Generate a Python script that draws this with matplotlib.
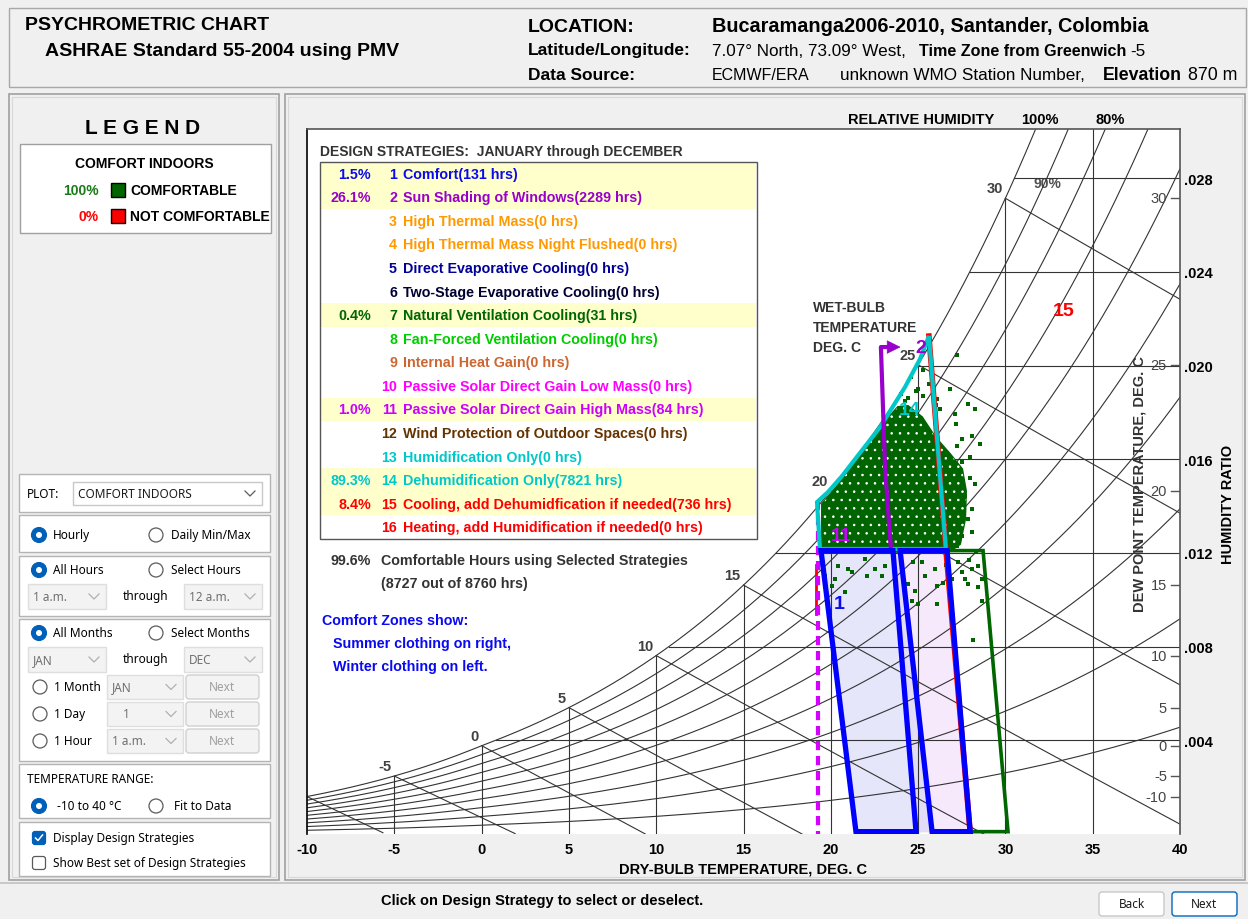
import numpy as np
import matplotlib
matplotlib.use("Agg")
import matplotlib.pyplot as plt
from matplotlib.patches import Rectangle, Polygon, Circle, FancyBboxPatch

plt.rcParams["font.family"] = ["Liberation Sans", "DejaVu Sans"]
plt.rcParams["hatch.linewidth"] = 0.6

# ---------------------------------------------------------------- data
P_ATM = 101.325  # chart drawn at sea-level pressure

STRATEGY_NAMES = [
    "Comfort", "Sun Shading of Windows", "High Thermal Mass",
    "High Thermal Mass Night Flushed", "Direct Evaporative Cooling",
    "Two-Stage Evaporative Cooling", "Natural Ventilation Cooling",
    "Fan-Forced Ventilation Cooling", "Internal Heat Gain",
    "Passive Solar Direct Gain Low Mass", "Passive Solar Direct Gain High Mass",
    "Wind Protection of Outdoor Spaces", "Humidification Only",
    "Dehumidification Only", "Cooling, add Dehumidfication if needed",
    "Heating, add Humidification if needed",
]
STRATEGY_HOURS = [131, 2289, 0, 0, 0, 0, 31, 0, 0, 0, 84, 0, 0, 7821, 736, 0]
STRATEGY_COLORS = [
    "#0a0af0", "#9900cc", "#ff9900", "#ff9900", "#000099", "#000033",
    "#006600", "#00cc00", "#cc6633", "#ff00ff", "#cc00ff", "#663300",
    "#00c8c8", "#00c8c8", "#ff0000", "#ff0000",
]
TOTAL_HOURS = 8760
COMFORT_HOURS = 8727

DB_LINES = [-5, 0, 5, 10, 15, 20, 25, 30, 35]
DB_TICKS = [-10, -5, 0, 5, 10, 15, 20, 25, 30, 35, 40]
WB_LINES = [-10, -5, 0, 5, 10, 15, 20, 25, 30]
WB_LABELS = [-5, 0, 5, 10, 15, 20, 25, 30]
DP_TICKS = [-10, -5, 0, 5, 10, 15, 20, 25, 30]
W_TICKS = [0.004, 0.008, 0.012, 0.016, 0.020, 0.024, 0.028]
RH_LINES = [0.1, 0.2, 0.3, 0.4, 0.5, 0.6, 0.7, 0.8, 0.9, 1.0]

# comfort zones and strategy outlines (dry bulb C, humidity ratio kg/kg)
WINTER_T = [19.44, 23.56, 24.88, 21.44]
WINTER_W = [0.0121, 0.0121, 0.0001, 0.0001]
SUMMER_T = [23.97, 26.66, 27.98, 25.80]
SUMMER_W = [0.0121, 0.0121, 0.0001, 0.0001]
NATVENT_T = [26.66, 28.72, 30.15, 27.98]
NATVENT_W = [0.0121, 0.0121, 0.0001, 0.0001]
DEHUM_T = [19.38, 19.21, 19.84, 20.64, 21.44, 22.82, 24.25, 25.11, 25.62, 26.59]
DEHUM_W = [0.01217, 0.01417, 0.01460, 0.01528, 0.01605, 0.01737, 0.01908,
           0.02028, 0.02126, 0.01217]
COOLING_T = [25.62, 26.59, 27.98]
COOLING_W = [0.02126, 0.01217, 0.0001]
SHADE_T = [23.45, 23.11, 22.87, 23.55]
SHADE_W = [0.01212, 0.01558, 0.02079, 0.02079]
SHADE_ARROW_TIP = 24.15
PASSIVE_T = [19.27, 19.27]
PASSIVE_W = [0.0142, 0.0]
HEAT_T = [19.18, 19.18]
HEAT_W = [0.0115, 0.0094]

ZONE_LABELS = ["1", "2", "11", "14", "15"]
ZONE_LABEL_T = [20.47, 25.17, 20.58, 24.54, 33.33]
ZONE_LABEL_W = [0.00982, 0.02079, 0.01275, 0.01814, 0.02237]
ZONE_LABEL_COLORS = ["#0a0af0", "#9900cc", "#cc00ff", "#00c8c8", "#ff0000"]

# dense part of the hourly data cloud
CLOUD_T = [19.50, 19.50, 20.41, 21.21, 22.13, 23.22, 23.85, 24.42, 25.22,
           25.97, 26.83, 27.52, 27.74, 27.69, 27.40, 26.83, 22.82, 19.95]
CLOUD_W = [0.01225, 0.01409, 0.0149, 0.0157, 0.0166, 0.01772, 0.01823,
           0.01827, 0.01780, 0.01695, 0.01622, 0.01558, 0.01464, 0.01345,
           0.01238, 0.01208, 0.01204, 0.01204]
# scattered hours around the cloud
HOUR_T = [27.20, 26.83, 26.09, 27.86, 28.26, 25.00, 25.28, 24.25, 27.17,
          27.52, 28.09, 28.55, 27.23, 27.98, 27.52, 28.26, 27.69, 28.09,
          27.86, 27.52, 28.09, 27.23, 20.41, 20.99, 20.25, 21.96, 22.53,
          23.10, 24.71, 25.40, 25.22, 25.97, 26.09, 24.42, 24.82, 22.93,
          20.07, 19.67, 20.81, 27.29, 27.52, 28.09, 27.69, 26.94, 28.43,
          27.86, 28.66, 24.65, 25.00, 26.09, 28.66, 28.15, 28.43, 27.12,
          26.26, 24.0, 26.6, 28.0, 23.6, 21.2, 22.1, 26.4, 27.9, 28.3,
          24.6, 25.3, 24.9, 25.6, 26.0, 24.4]
HOUR_W = [0.02045, 0.01900, 0.01857, 0.01836, 0.01814, 0.01900, 0.01870,
          0.01848, 0.01750, 0.01686, 0.01699, 0.01665, 0.01656, 0.01609,
          0.01588, 0.01494, 0.01443, 0.01387, 0.01345, 0.01272, 0.01289,
          0.01229, 0.01144, 0.01131, 0.01089, 0.01174, 0.01131, 0.01144,
          0.01161, 0.01101, 0.01161, 0.01131, 0.01059, 0.01067, 0.01037,
          0.01101, 0.01059, 0.01101, 0.01033, 0.01161, 0.01118, 0.01131,
          0.01089, 0.01089, 0.01144, 0.01067, 0.01089, 0.00995, 0.00982,
          0.00982, 0.00995, 0.00828, 0.01054, 0.01793, 0.01814, 0.0188,
          0.0115, 0.0152, 0.0113, 0.0112, 0.0110, 0.0107, 0.0117, 0.0121,
          0.0195, 0.0198, 0.0189, 0.0192, 0.0183, 0.0186]


# ---------------------------------------------------------------- psychrometrics
def p_ws(t):
    t = np.asarray(t, float)
    water = 0.61094 * np.exp(17.625 * t / (t + 243.04))
    ice = 0.61115 * np.exp(22.452 * t / (272.55 + t))
    return np.where(t >= 0, water, ice)


def w_rh(t, rh=1.0):
    p = rh * p_ws(t)
    return 0.622 * p / (P_ATM - p)


def w_wetbulb(t, twb):
    ws = w_rh(twb)
    if twb >= 0:
        return ((2501 - 2.326 * twb) * ws - 1.006 * (t - twb)) / (2501 + 1.86 * t - 4.186 * twb)
    return ((2830 - 0.24 * twb) * ws - 1.006 * (t - twb)) / (2830 + 1.86 * t - 2.1 * twb)


# ---------------------------------------------------------------- figure
fig = plt.figure(figsize=(12.48, 9.2), dpi=100)
fig.patch.set_facecolor("#f0f0f0")

ui = fig.add_axes([0, 0, 1, 1], zorder=0)
ui.set_xlim(0, 1248)
ui.set_ylim(920, 0)
ui.axis("off")

ax = fig.add_axes([307 / 1248, 85 / 920, 873 / 1248, 705 / 920], zorder=1)

fg = fig.add_axes([0, 0, 1, 1], zorder=3)
fg.set_xlim(0, 1248)
fg.set_ylim(920, 0)
fg.axis("off")

UI_FONT = ["Noto Sans", "DejaVu Sans"]


def rect(a, x0, y0, x1, y1, fc="white", ec="#a0a0a0", lw=1.0, z=1):
    a.add_patch(Rectangle((x0, y0), x1 - x0, y1 - y0, facecolor=fc,
                          edgecolor=ec, linewidth=lw, zorder=z))


def txt(a, x, y, s, size=10, weight="bold", color="black", ha="left",
        va="center", family=None, **kw):
    a.text(x, y, s, fontsize=size, fontweight=weight, color=color, ha=ha,
           va=va, family=family, **kw)


def radio(x, y, on):
    if on:
        ui.add_patch(Circle((x, y), 7.5, fc="#005fb8", ec="#005fb8", lw=0.8, zorder=3))
        ui.add_patch(Circle((x, y), 3.0, fc="white", ec="none", zorder=4))
    else:
        ui.add_patch(Circle((x, y), 7.0, fc="white", ec="#5a5a5a", lw=0.9, zorder=3))


def checkbox(x, y, on):
    fc, ec = ("#005fb8", "#005fb8") if on else ("white", "#5a5a5a")
    ui.add_patch(FancyBboxPatch((x - 6.5, y - 6.5), 13, 13,
                                boxstyle="round,pad=0,rounding_size=2.5",
                                fc=fc, ec=ec, lw=0.9, zorder=3))
    if on:
        ui.plot([x - 3.5, x - 1, x + 3.5], [y, y + 2.5, y - 3], color="white",
                lw=1.1, zorder=4)


def combo(x0, y0, x1, y1, s, enabled=True, tx=None):
    rect(ui, x0, y0, x1, y1, fc="white" if enabled else "#f3f3f3",
         ec="#c8c8c8" if enabled else "#dedede", z=2)
    txt(ui, x0 + 5 if tx is None else tx, (y0 + y1) / 2, s, size=8.5,
        weight="normal", color="#1a1a1a" if enabled else "#707070",
        family=UI_FONT, zorder=3)
    cx, cy = x1 - 12, (y0 + y1) / 2
    ui.plot([cx - 5, cx, cx + 5], [cy - 2.5, cy + 2.5, cy - 2.5],
            color="#5a5a5a" if enabled else "#b0b0b0", lw=0.9, zorder=3)


def button(x0, y0, x1, y1, s, ec="#d0d0d0", tc="#a0a0a0", fc="#f3f3f3"):
    ui.add_patch(FancyBboxPatch((x0, y0), x1 - x0, y1 - y0,
                                boxstyle="round,pad=0,rounding_size=3",
                                fc=fc, ec=ec, lw=1.0, zorder=2))
    txt(ui, (x0 + x1) / 2, (y0 + y1) / 2, s, size=8.5, weight="normal",
        color=tc, ha="center", family=UI_FONT, zorder=3)


# ---- header
rect(ui, 9, 9, 1246, 88, fc="#f0f0f0", ec="#a8a8a8")
txt(ui, 25, 26, "PSYCHROMETRIC CHART", size=14)
txt(ui, 45, 52, "ASHRAE Standard 55-2004 using PMV", size=14)
txt(ui, 528, 27, "LOCATION:", size=14)
txt(ui, 712, 27, "Bucaramanga2006-2010, Santander, Colombia", size=14.3)
txt(ui, 528, 51, "Latitude/Longitude:", size=12.5)
txt(ui, 712, 51, "7.07\u00b0 North, 73.09\u00b0 West,", size=12.3, weight="normal")
txt(ui, 919, 51, "Time Zone from Greenwich", size=11.6)
txt(ui, 1130, 51, "-5", size=12.3, weight="normal")
txt(ui, 528, 75, "Data Source:", size=12.5)
txt(ui, 712, 75, "ECMWF/ERA", size=11.5, weight="normal")
txt(ui, 840, 75, "unknown WMO Station Number,", size=12.3, weight="normal")
txt(ui, 1103, 75, "Elevation", size=12.8)
txt(ui, 1188, 75, "870 m", size=12.8, weight="normal")

# ---- panels
rect(ui, 9, 95, 279, 881, fc="#f0f0f0", ec="#a0a0a0", lw=1.2)
rect(ui, 12, 98, 276, 878, fc="none", ec="#d8d8d8", lw=0.8)
rect(ui, 285, 95, 1245, 881, fc="#f0f0f0", ec="#a0a0a0", lw=1.2)
rect(ui, 288, 98, 1242, 878, fc="none", ec="#d8d8d8", lw=0.8)
ui.plot([0, 1248], [884, 884], color="#c0c0c0", lw=1.2)

# ---- legend
txt(ui, 143, 128, "L E G E N D", size=15, ha="center")
rect(ui, 20, 145, 271, 234, fc="white", ec="#a0a0a0")
txt(ui, 144, 164, "COMFORT INDOORS", size=10, ha="center", zorder=3)
txt(ui, 99, 191, "100%", size=10, ha="right", color="#1a7a1a", zorder=3)
rect(ui, 111, 184, 125, 198, fc="#006400", ec="black", z=3)
txt(ui, 130, 191, "COMFORTABLE", size=10, zorder=3)
txt(ui, 99, 217, "0%", size=10, ha="right", color="#ff0000", zorder=3)
rect(ui, 111, 210, 125, 224, fc="#ff0000", ec="black", z=3)
txt(ui, 130, 217, "NOT COMFORTABLE", size=10, zorder=3)

# ---- controls
for y0, y1 in [(475, 513), (516, 553), (557, 617), (620, 762), (765, 819), (823, 877)]:
    rect(ui, 19, y0, 270, y1, fc="white", ec="#b4b4b4")
txt(ui, 27, 495, "PLOT:", size=8.5, weight="normal", family=UI_FONT, zorder=3)
combo(73, 483, 262, 506, "COMFORT INDOORS")
radio(39, 536, True)
txt(ui, 53, 536, "Hourly", size=8.5, weight="normal", family=UI_FONT, zorder=3)
radio(156, 536, False)
txt(ui, 171, 536, "Daily Min/Max", size=8.5, weight="normal", family=UI_FONT, zorder=3)
radio(39, 571, True)
txt(ui, 53, 571, "All Hours", size=8.5, weight="normal", family=UI_FONT, zorder=3)
radio(156, 571, False)
txt(ui, 171, 571, "Select Hours", size=8.5, weight="normal", family=UI_FONT, zorder=3)
combo(28, 585, 106, 610, "1 a.m.", enabled=False)
txt(ui, 146, 597, "through", size=8.5, weight="normal", ha="center", family=UI_FONT, zorder=3)
combo(184, 585, 262, 610, "12 a.m.", enabled=False)
radio(39, 634, True)
txt(ui, 53, 634, "All Months", size=8.5, weight="normal", family=UI_FONT, zorder=3)
radio(156, 634, False)
txt(ui, 171, 634, "Select Months", size=8.5, weight="normal", family=UI_FONT, zorder=3)
combo(28, 648, 106, 673, "JAN", enabled=False)
txt(ui, 146, 660, "through", size=8.5, weight="normal", ha="center", family=UI_FONT, zorder=3)
combo(184, 648, 262, 673, "DEC", enabled=False)
for yy, name, val, tx in [(688, "1 Month", "JAN", None), (715, "1 Day", "1", 123),
                          (742, "1 Hour", "1 a.m.", None)]:
    radio(40, yy, False)
    txt(ui, 54, yy, name, size=8.5, weight="normal", family=UI_FONT, zorder=3)
    combo(107, yy - 12, 183, yy + 12, val, enabled=False, tx=tx)
    button(186, yy - 12, 259, yy + 12, "Next")
txt(ui, 27, 780, "TEMPERATURE RANGE:", size=8.5, weight="normal", family=UI_FONT, zorder=3)
radio(39, 807, True)
txt(ui, 57, 807, "-10 to 40 \u00b0C", size=8.5, weight="normal", family=UI_FONT, zorder=3)
radio(156, 807, False)
txt(ui, 174, 807, "Fit to Data", size=8.5, weight="normal", family=UI_FONT, zorder=3)
checkbox(39, 839, True)
txt(ui, 53, 839, "Display Design Strategies", size=8.5, weight="normal", family=UI_FONT, zorder=3)
checkbox(39, 864, False)
txt(ui, 53, 864, "Show Best set of Design Strategies", size=8.5, weight="normal", family=UI_FONT, zorder=3)

# ---- bottom bar
txt(ui, 381, 901, "Click on Design Strategy to select or deselect.", size=10.5)
button(1099, 893, 1164, 917, "Back", ec="#c8c8c8", tc="#1a1a1a", fc="white")
button(1172, 893, 1237, 917, "Next", ec="#0067c0", tc="#1a1a1a", fc="white")

# ---------------------------------------------------------------- chart
ax.set_xlim(-10, 40)
ax.set_ylim(0, 0.0301)
ax.set_facecolor("white")
for side in ["top", "right"]:
    ax.spines[side].set_color("#555555")
    ax.spines[side].set_linewidth(1.2)
ax.spines["left"].set_color("black")
ax.spines["left"].set_linewidth(1.2)
ax.spines["bottom"].set_visible(False)

GRID = dict(color="#333333", lw=0.8, zorder=2)
t_fine = np.linspace(-10, 40, 600)
for rh in RH_LINES:
    ax.plot(t_fine, w_rh(t_fine, rh), **GRID)
for t in DB_LINES:
    ax.plot([t, t], [0, w_rh(t)], **GRID)
for w in W_TICKS:
    t_sat = np.interp(w, w_rh(t_fine), t_fine)
    ax.plot([t_sat, 40], [w, w], **GRID)
for twb in WB_LINES:
    tt = np.linspace(twb, 40, 300)
    ww = w_wetbulb(tt, twb)
    keep = ww >= 0
    ax.plot(tt[keep], ww[keep], **GRID)
for twb in WB_LABELS:
    ax.annotate(str(twb), (twb, w_rh(twb)), xytext=(-2, 2),
                textcoords="offset points", ha="right", va="bottom",
                fontsize=10.5, fontweight="bold", color="#404040", zorder=5)
for td in DP_TICKS:
    w = w_rh(td)
    ax.plot([39.5, 40], [w, w], color="#555555", lw=1.0, zorder=2)
    ax.text(39.25, w, str(td), ha="right", va="center", fontsize=10.5,
            color="#444444", zorder=5)
ax.text(32.38, 0.02779, "90%", ha="center", va="center", fontsize=10,
        fontweight="bold", color="#505050", zorder=1.5)

# comfort zone fills
ax.fill(WINTER_T, WINTER_W, color="#e6e6fb", zorder=1)
ax.fill(SUMMER_T, SUMMER_W, color="#f5e9fb", zorder=1)
ax.fill([WINTER_T[1], SUMMER_T[0], SUMMER_T[3], WINTER_T[2]],
        [WINTER_W[1], SUMMER_W[0], SUMMER_W[3], WINTER_W[2]],
        color="#e2dcf6", zorder=1)

# hourly data
cloud = np.column_stack([CLOUD_T, CLOUD_W])
ax.add_patch(Polygon(cloud, closed=True, fc="#006400", ec="#006400", lw=1.5,
                     zorder=3))
ax.add_patch(Polygon(cloud, closed=True, fc="none", ec="white", lw=0,
                     hatch="..", zorder=3.1))
ax.scatter(HOUR_T, HOUR_W, s=5, marker="s", color="#006400", lw=0, zorder=3.2)

# strategy outlines
ax.plot(HEAT_T, HEAT_W, color="#ff0000", lw=2.0, zorder=3.5)
ax.plot(PASSIVE_T, PASSIVE_W, color="#d600ff", lw=3.0, dashes=(2.2, 1.4), zorder=3.6)
ax.plot(COOLING_T, COOLING_W, color="#ff0000", lw=4.0, zorder=3.5)
ax.fill(DEHUM_T, DEHUM_W, fill=False, ec="#00c8c8", lw=3.0, zorder=3.7)
ax.fill(NATVENT_T, NATVENT_W, fill=False, ec="#006600", lw=2.6, zorder=3.8)
ax.plot(SHADE_T, SHADE_W, color="#9900cc", lw=3.0, zorder=3.9)
ax.annotate("", xy=(SHADE_ARROW_TIP, SHADE_W[-1]), xytext=(SHADE_T[-1], SHADE_W[-1]),
            arrowprops=dict(arrowstyle="-|>,head_length=0.9,head_width=0.45",
                            color="#9900cc", lw=0.5), zorder=3.9)
ax.fill(WINTER_T, WINTER_W, fill=False, ec="#0000ff", lw=3.8, zorder=4)
ax.fill(SUMMER_T, SUMMER_W, fill=False, ec="#0000ff", lw=3.8, zorder=4)
for s, t, w, c in zip(ZONE_LABELS, ZONE_LABEL_T, ZONE_LABEL_W, ZONE_LABEL_COLORS):
    ax.text(t, w, s, ha="center", va="center", fontsize=14, fontweight="bold",
            color=c, zorder=5)

# axes ticks
ax.set_xticks(DB_TICKS)
ax.set_xticklabels([str(t) for t in DB_TICKS], fontsize=10.5, fontweight="bold")
ax.tick_params(axis="x", length=0, pad=6)
ax.yaxis.tick_right()
ax.set_yticks(W_TICKS)
ax.set_yticklabels([f"{w:.3f}"[1:] for w in W_TICKS], fontsize=10.5, fontweight="bold")
ax.tick_params(axis="y", length=0, pad=3)

# labels around the chart
txt(ui, 743, 870, "DRY-BULB TEMPERATURE, DEG. C", size=10.5, ha="center")
txt(ui, 921, 120, "RELATIVE HUMIDITY", size=10.5, ha="center")
txt(ui, 1040, 120, "100%", size=10.5, ha="center")
txt(ui, 1110, 120, "80%", size=10.5, ha="center")
txt(ui, 1228, 504, "HUMIDITY RATIO", size=10.5, ha="center", rotation=90)
txt(fg, 1140, 484, "DEW POINT TEMPERATURE, DEG. C", size=10.5, ha="center",
    rotation=90, color="#333333")
for i, s in enumerate(["WET-BULB", "TEMPERATURE", "DEG. C"]):
    txt(fg, 813, 308 + 20 * i, s, size=10, color="#333333")

# ---- design strategy table
txt(fg, 320, 152, "DESIGN STRATEGIES:  JANUARY through DECEMBER", size=10, color="#333333")
row_h = (540 - 163) / len(STRATEGY_NAMES)
for i, (name, hrs, col) in enumerate(zip(STRATEGY_NAMES, STRATEGY_HOURS, STRATEGY_COLORS)):
    yc = 163 + row_h * (i + 0.5)
    if hrs > 0:
        rect(fg, 321, 163 + row_h * i, 756, 163 + row_h * (i + 1), fc="#ffffcc", ec="none", lw=0, z=1)
        txt(fg, 371, yc, f"{100 * hrs / TOTAL_HOURS:.1f}%", size=10.3, ha="right", color=col, zorder=3)
    txt(fg, 397, yc, str(i + 1), size=10.3, ha="right", color=col, zorder=3)
    txt(fg, 403, yc, f"{name}({hrs} hrs)", size=10.3, color=col, zorder=3)
rect(fg, 320, 163, 757, 540, fc="none", ec="#555555", lw=1.0, z=4)

txt(fg, 371, 561, f"{100 * COMFORT_HOURS / TOTAL_HOURS:.1f}%", size=10.3, ha="right", color="#333333")
txt(fg, 381, 561, "Comfortable Hours using Selected Strategies", size=10.3, color="#333333")
txt(fg, 381, 584, f"({COMFORT_HOURS} out of {TOTAL_HOURS} hrs)", size=10.3, color="#333333")
txt(fg, 322, 621, "Comfort Zones show:", size=10.3, color="#0a0af0")
txt(fg, 333, 644, "Summer clothing on right,", size=10.3, color="#0a0af0")
txt(fg, 333, 667, "Winter clothing on left.", size=10.3, color="#0a0af0")

fig.savefig("out.png", dpi=100, facecolor=fig.get_facecolor())
